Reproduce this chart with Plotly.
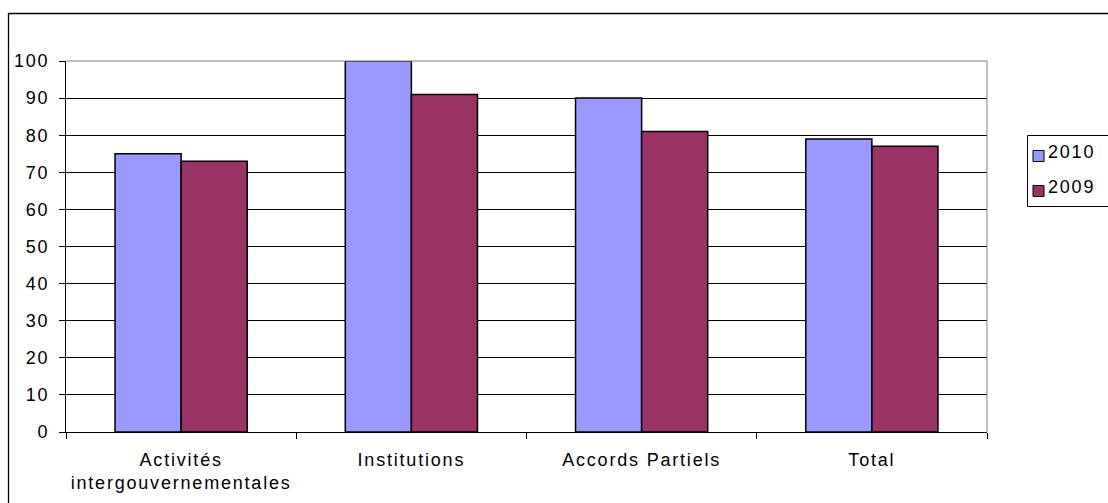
import plotly.graph_objects as go

categories = ["Activités<br>intergouvernementales", "Institutions", "Accords Partiels", "Total"]
series_names = ["2010", "2009"]
values_2010 = [75, 100, 90, 79]
values_2009 = [73, 91, 81, 77]
y_ticks = [0, 10, 20, 30, 40, 50, 60, 70, 80, 90, 100]

colors = ["#9999FF", "#993366"]
FONT = dict(family="Liberation Sans, Arial, sans-serif", size=18, color="#000")

# plot area in pixels (figure is 1108 x 503)
W, H = 1108, 503
L, R, T, B = 66, 987, 61, 432


def px_x(x):
    return (x - L) / (R - L)


def px_y(y):
    return (B - y) / (B - T)


def spaced(text, sp=1.8):
    return "<br>".join(
        f'<span style="letter-spacing:{sp}px">{line}</span>' for line in text.split("<br>")
    )


fig = go.Figure()
for name, vals, col in zip(series_names, [values_2010, values_2009], colors):
    fig.add_trace(go.Bar(name=name, x=categories, y=vals,
                         marker=dict(color=col, line=dict(color="#000", width=1.5))))

shapes = [
    # plot-area frame (top and right edges)
    dict(type="line", xref="paper", yref="paper", x0=0, x1=1, y0=1, y1=1,
         line=dict(color="#808080", width=1)),
    dict(type="line", xref="paper", yref="paper", x0=1, x1=1, y0=0, y1=1,
         line=dict(color="#808080", width=1)),
    # outer chart border
    dict(type="rect", xref="paper", yref="paper", x0=px_x(8.5), x1=px_x(1130),
         y0=px_y(530), y1=px_y(13.5), line=dict(color="#000", width=1.3),
         fillcolor="rgba(0,0,0,0)", layer="below"),
    # legend box
    dict(type="rect", xref="paper", yref="paper", x0=px_x(1027.5), x1=px_x(1130),
         y0=px_y(206.5), y1=px_y(135.5), line=dict(color="#000", width=1),
         fillcolor="#fff"),
]
annotations = []
for i, (name, col) in enumerate(zip(series_names, colors)):
    cy = 156 + i * 35
    shapes.append(dict(type="rect", xref="paper", yref="paper",
                       x0=px_x(1033), x1=px_x(1044), y0=px_y(cy + 5.5), y1=px_y(cy - 5.5),
                       line=dict(color="#000", width=1), fillcolor=col))
    annotations.append(dict(xref="paper", yref="paper", x=px_x(1046), y=px_y(cy - 4),
                            xanchor="left", yanchor="middle", showarrow=False,
                            text=spaced(name), font=FONT))

fig.update_layout(
    width=W, height=H,
    margin=dict(l=L, r=W - R, t=T, b=H - B, autoexpand=False),
    paper_bgcolor="#fff", plot_bgcolor="#fff",
    font=FONT,
    barmode="group", bargap=0.426, bargroupgap=0,
    showlegend=False,
    xaxis=dict(type="category", showline=True, linecolor="#000", linewidth=1,
               tickmode="array", tickvals=categories,
               ticktext=[spaced(c) for c in categories], tickangle=0,
               ticks="outside", tickson="boundaries", ticklen=6, tickcolor="#000",
               showgrid=False, tickfont=FONT, ticklabelstandoff=11),
    yaxis=dict(range=[0, 100], tickmode="array", tickvals=y_ticks,
               ticktext=[spaced(str(v)) for v in y_ticks],
               showline=True, linecolor="#000",
               linewidth=1, ticks="outside", ticklen=6, tickcolor="#000",
               showgrid=True, gridcolor="#000", gridwidth=1, zeroline=False,
               tickfont=FONT, ticklabelstandoff=6),
    shapes=shapes,
    annotations=annotations,
)

fig.write_html("out.html")
